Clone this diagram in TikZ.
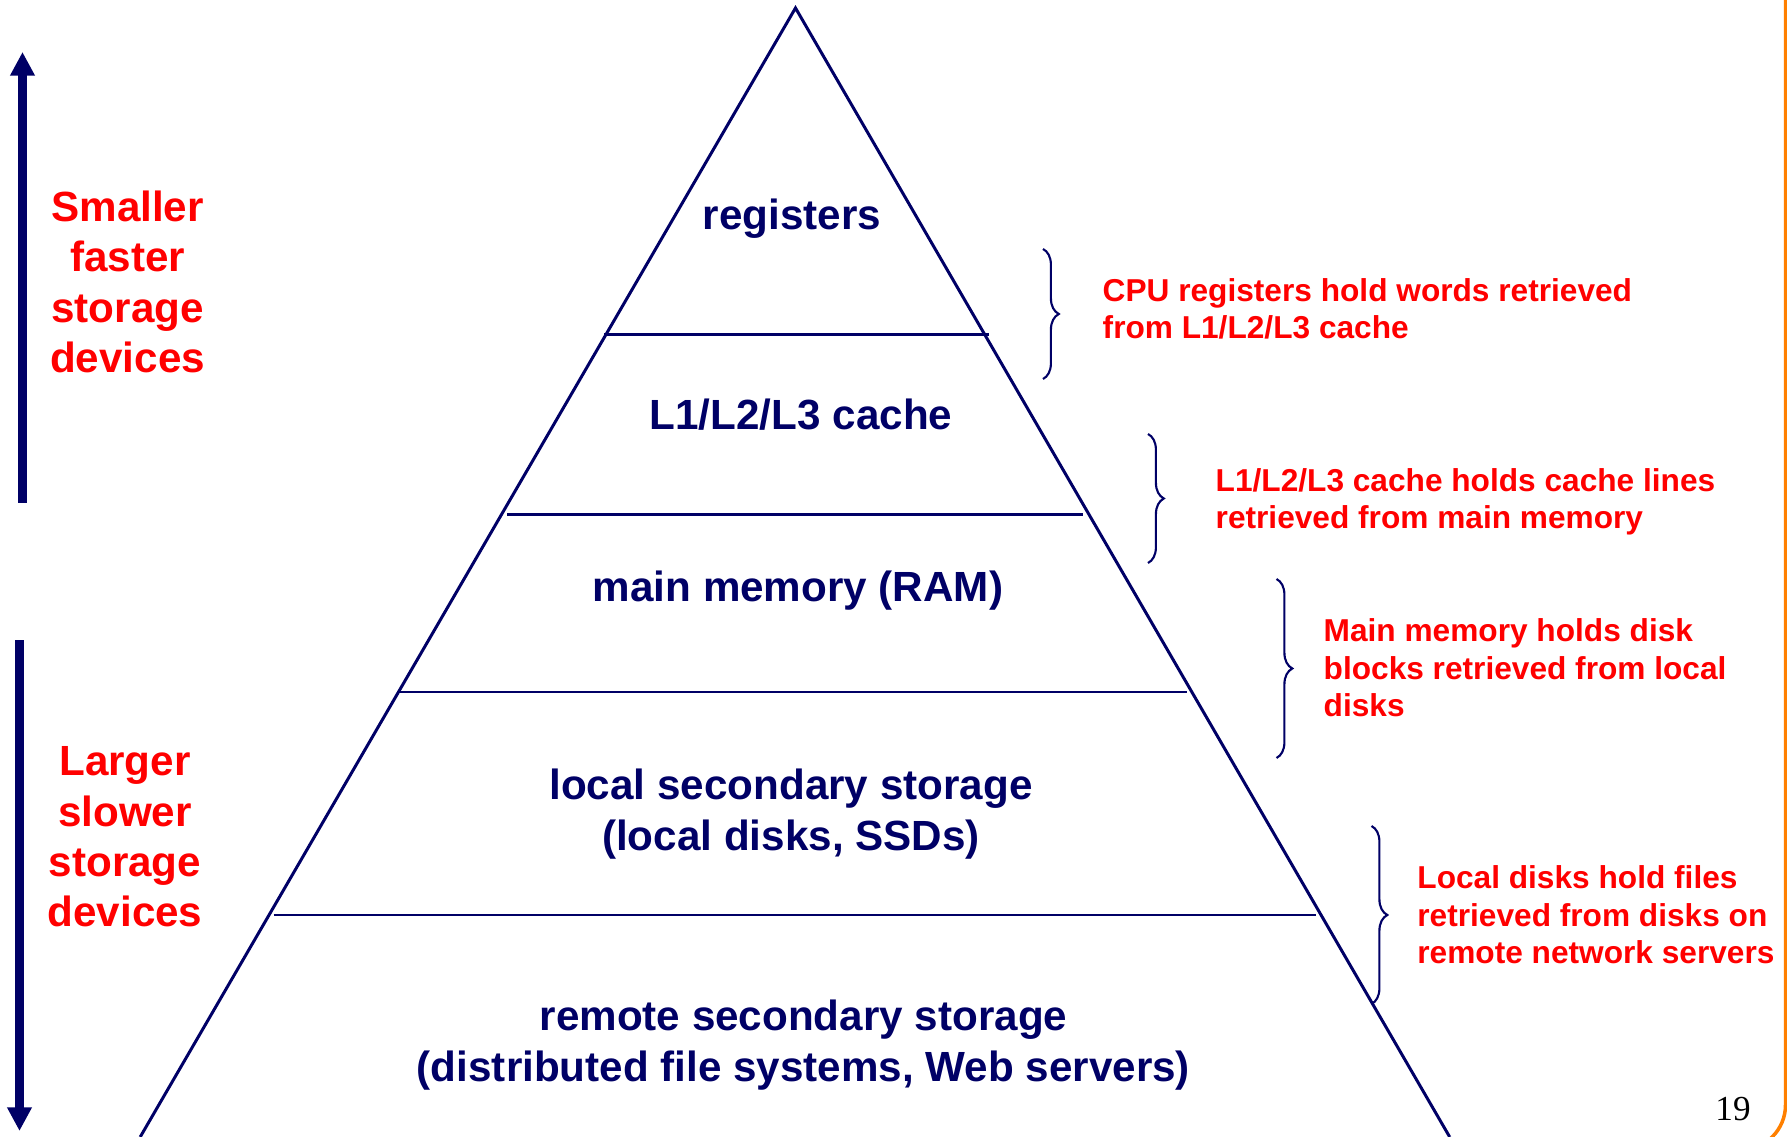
\documentclass[tikz,border=0pt]{standalone}
\usepackage{fontspec}
\setmainfont{Liberation Sans}
\newfontfamily\pagefont{Liberation Serif}
\usetikzlibrary{arrows.meta,decorations.pathreplacing}
\definecolor{navy}{HTML}{000066}
\definecolor{slidered}{HTML}{FF0000}
\definecolor{frameorange}{HTML}{FF8000}
\tikzset{
  tier/.style={text=navy, font=\bfseries\fontsize{12}{14.3}\selectfont, align=center, inner sep=0pt},
  sidelabel/.style={text=slidered, font=\bfseries\fontsize{12}{14.3}\selectfont, align=center, inner sep=0pt},
  note/.style={text=slidered, font=\bfseries\fontsize{9}{10.7}\selectfont, align=left, inner sep=0pt, anchor=west},
  pyr/.style={draw=navy, line width=0.85pt},
  curly/.style={draw=navy, line width=0.6pt, decorate, decoration={brace, amplitude=4.5pt}},
  bigarrow/.style={draw=navy, line width=2.36pt, -{Triangle[length=6.7pt,width=6.6pt]}},
}
\begin{document}
\begin{tikzpicture}[x=0.01cm, y=-0.01cm]
\useasboundingbox (0,0) rectangle (1787,1137);

% slide frame edge
\draw[frameorange, line width=1pt, rounded corners=12.8pt]
  (1785.5,-10) -- (1785.5,1150) -- (1700,1150);

% pyramid outline and tier dividers
\coordinate (apex) at (795.5,8);
\coordinate (bl) at (140.2,1137);
\coordinate (br) at (1449.7,1137);
\draw[pyr] (bl) -- (apex) -- (br);
\draw[pyr] (604,334.5) -- (989,334.5);
\draw[pyr] (507,515) -- (1083,515);
\draw[pyr] (399,692) -- (1187,692);
\draw[pyr] (273.5,915) -- (1316,915);

% tier labels
\node[tier] (reg) at (792,218.5) {registers};
\node[tier] (cache) at (801,414.5) {L1/L2/L3 cache};
\node[tier] (ram) at (798,591) {main memory (RAM)};
\node[tier] (local) at (791,814) {local secondary storage\\(local disks, SSDs)};
\node[tier] (remote) at (803.5,1045) {remote secondary storage\\(distributed file systems, Web servers)};

% side arrows and labels
\coordinate (upS) at (22.5,503);
\coordinate (upE) at (22.5,52);
\coordinate (dnS) at (19.5,640.5);
\coordinate (dnE) at (19.5,1131);
\draw[bigarrow] (upS) -- (upE);
\draw[bigarrow] (dnS) -- (dnE);
\node[sidelabel] (small) at (127.6,282) {Smaller\\faster\\storage\\devices};
\node[sidelabel] (large) at (125,837) {Larger\\slower\\storage\\devices};

% braces
\coordinate (b1t) at (1043,249);  \coordinate (b1b) at (1043,379);
\coordinate (b2t) at (1148,434);  \coordinate (b2b) at (1148,563);
\coordinate (b3t) at (1276.5,579); \coordinate (b3b) at (1276.5,758);
\coordinate (b4t) at (1371.5,826); \coordinate (b4b) at (1371.5,1004);
\draw[curly] (b1t) -- (b1b);
\draw[curly] (b2t) -- (b2b);
\draw[curly] (b3t) -- (b3b);
\draw[curly] (b4t) -- (b4b);

% annotations
\node[note] (n1) at (1102,309) {CPU registers hold words retrieved\\from L1/L2/L3 cache};
\node[note] (n2) at (1215,502) {L1/L2/L3 cache holds cache lines\\retrieved from main memory};
\node[note] (n3) at (1323,668) {Main memory holds disk\\blocks retrieved from local\\disks};
\node[note] (n4) at (1416.7,915) {Local disks hold files\\retrieved from disks on\\remote network servers};

% page number
\node[font=\pagefont\fontsize{10}{12}\selectfont, inner sep=0pt] (pg) at (1733,1109) {19};
\end{tikzpicture}
\end{document}
